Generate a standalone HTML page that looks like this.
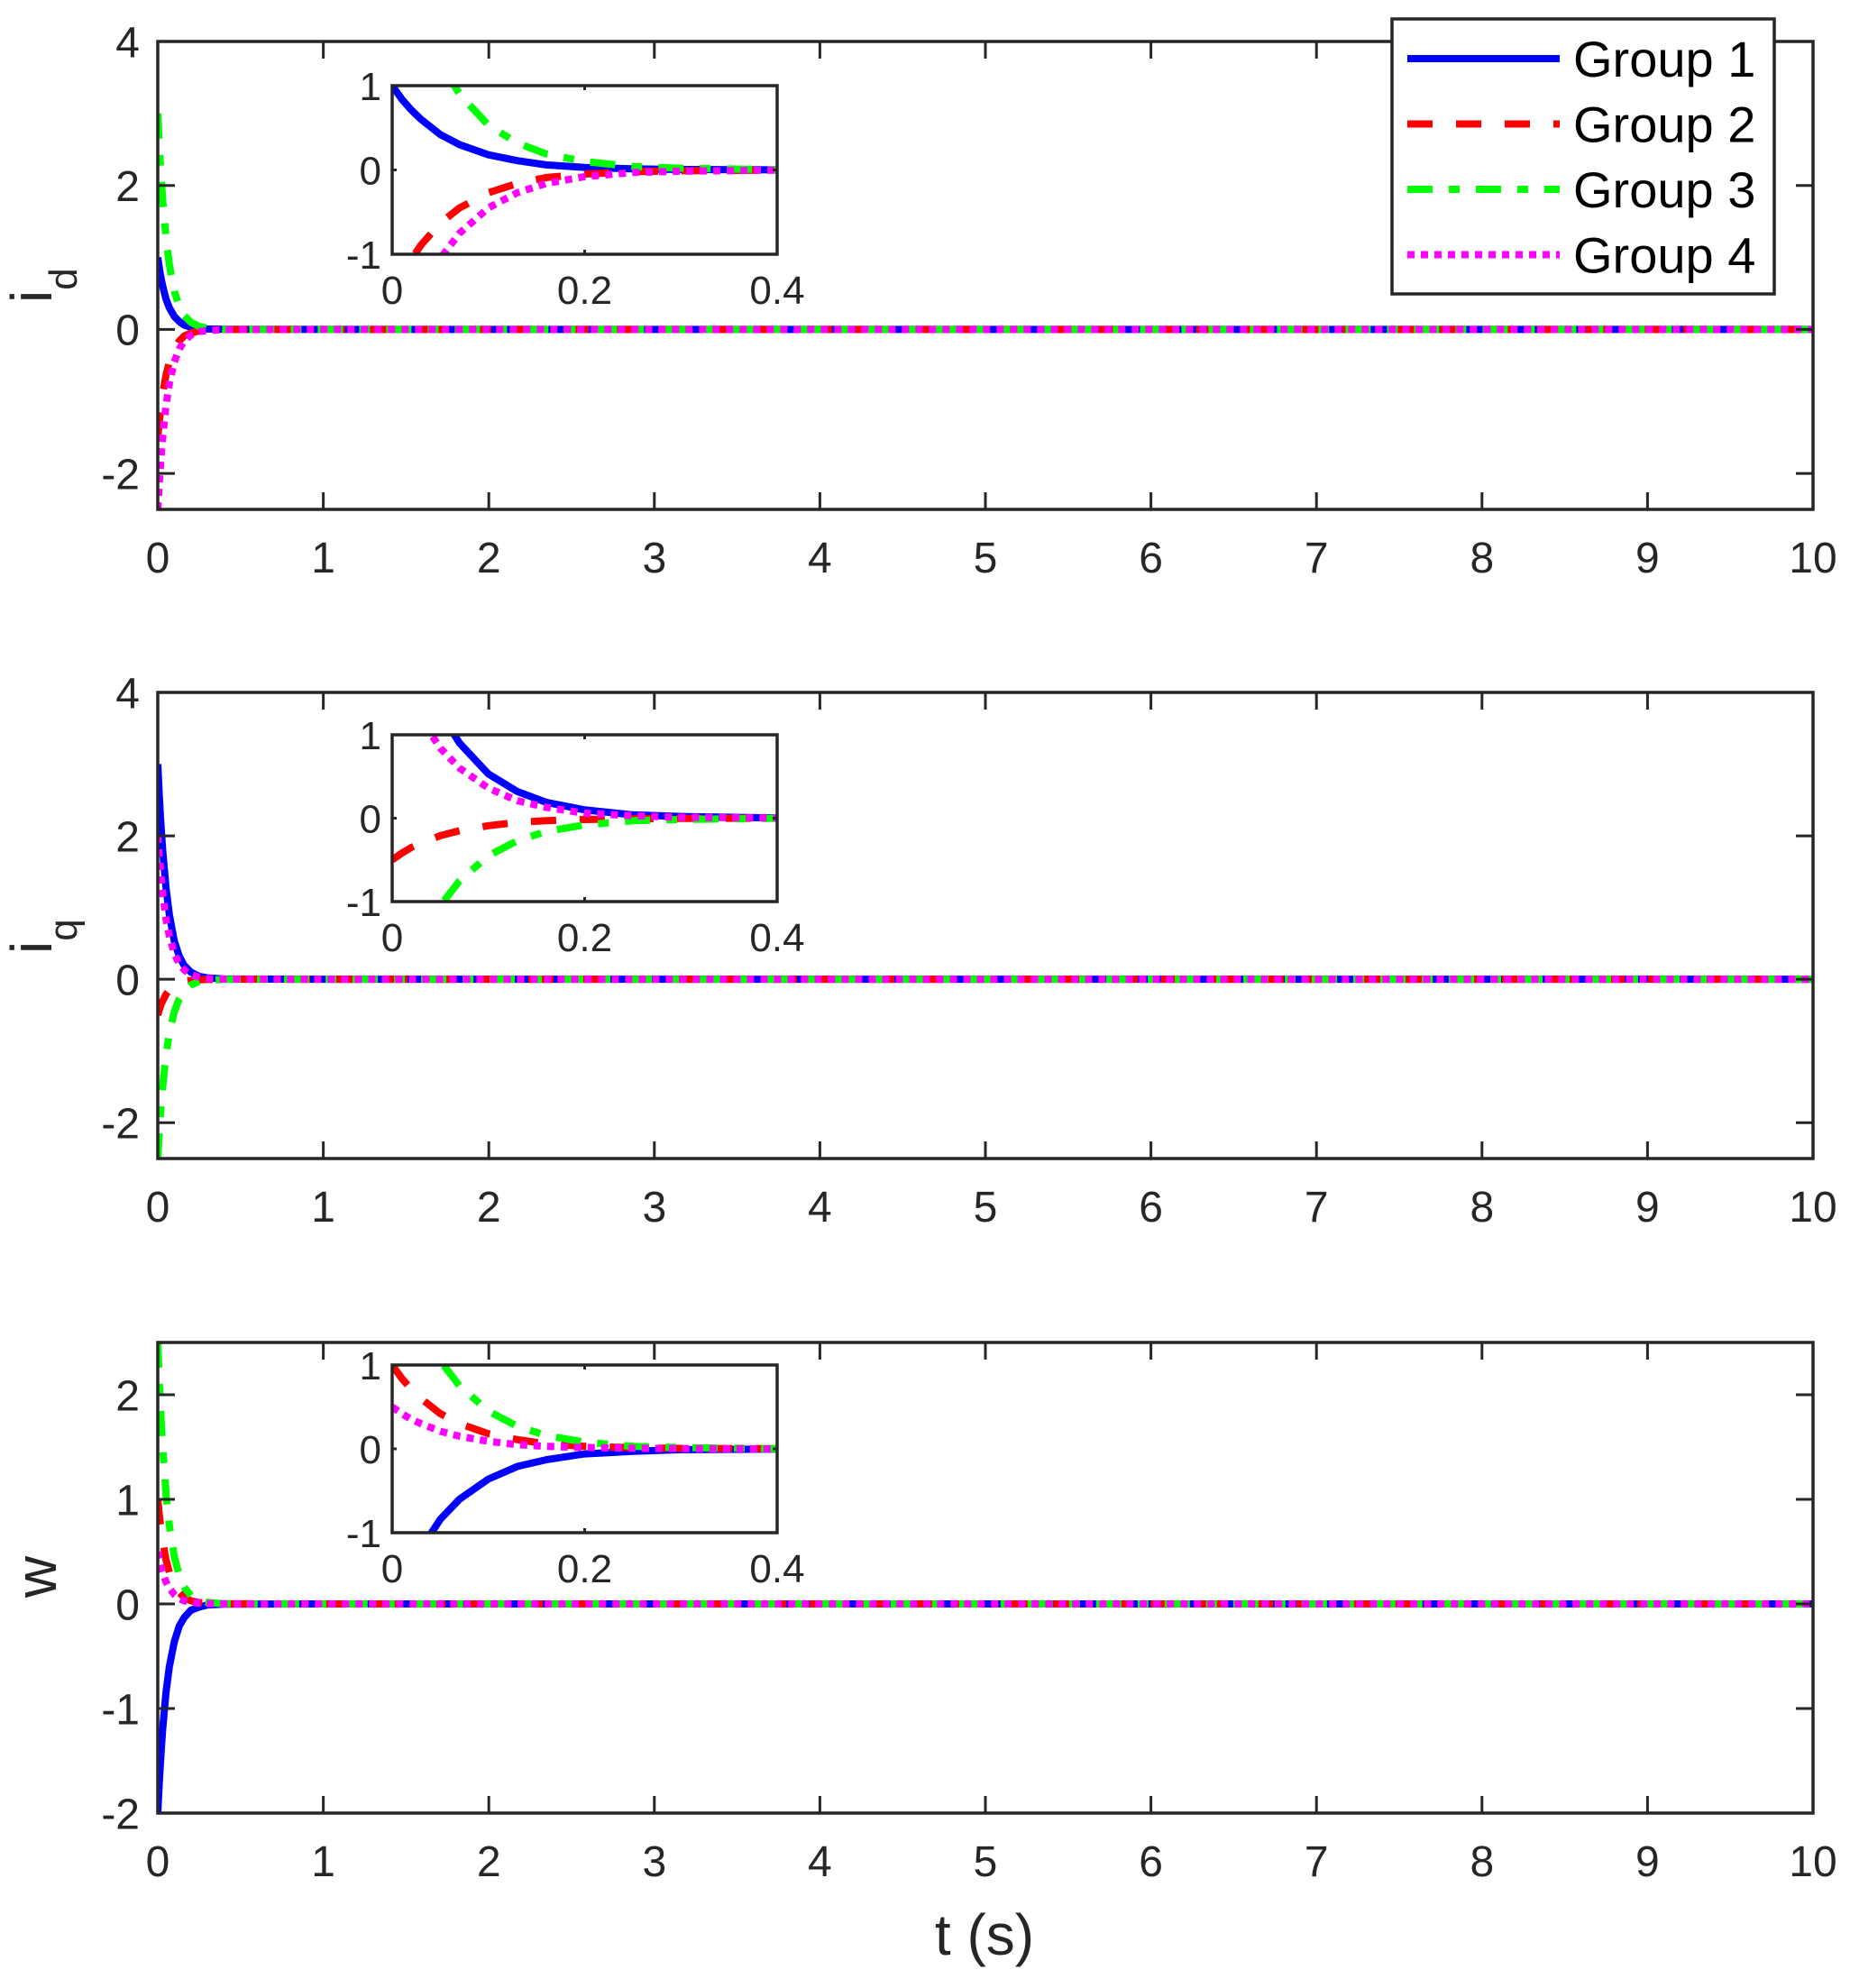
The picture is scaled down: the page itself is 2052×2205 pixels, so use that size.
<!DOCTYPE html>
<html><head><meta charset="utf-8"><style>
html,body{margin:0;padding:0;background:#fff;}
svg{display:block;font-family:"Liberation Sans",Arial,sans-serif;}
</style></head><body>
<svg id="fig" width="2052" height="2205" viewBox="0 0 2052 2205" xmlns="http://www.w3.org/2000/svg">
<rect width="2052" height="2205" fill="#fff"/>
</svg>
<script>
// Shared time samples (s)
const tSamples = [0,0.01,0.02,0.03,0.05,0.07,0.1,0.13,0.16,0.2,0.25,0.3,0.4,1,2,3,4,5,6,7,8,9,10];
// i_d series
const idG1 = [1,0.84,0.71,0.60,0.42,0.30,0.18,0.11,0.06,0.03,0.013,0.006,0.001,0,0,0,0,0,0,0,0,0,0];
const idG2 = [-1.5,-1.26,-1.06,-0.89,-0.63,-0.45,-0.27,-0.16,-0.09,-0.05,-0.02,-0.01,0,0,0,0,0,0,0,0,0,0,0];
const idG3 = [3,2.52,2.12,1.79,1.27,0.90,0.53,0.32,0.19,0.10,0.04,0.02,0.003,0,0,0,0,0,0,0,0,0,0];
const idG4 = [-2.5,-2.1,-1.77,-1.49,-1.05,-0.75,-0.45,-0.27,-0.16,-0.08,-0.03,-0.015,-0.002,0,0,0,0,0,0,0,0,0,0];
// i_q series
const iqG1 = [3,2.52,2.12,1.79,1.27,0.90,0.53,0.32,0.19,0.10,0.04,0.02,0.003,0,0,0,0,0,0,0,0,0,0];
const iqG2 = [-0.5,-0.42,-0.35,-0.30,-0.21,-0.15,-0.09,-0.05,-0.03,-0.016,-0.007,-0.003,0,0,0,0,0,0,0,0,0,0,0];
const iqG3 = [-2.5,-2.1,-1.77,-1.49,-1.05,-0.75,-0.45,-0.27,-0.16,-0.08,-0.03,-0.015,-0.002,0,0,0,0,0,0,0,0,0,0];
const iqG4 = [2,1.68,1.42,1.19,0.84,0.60,0.36,0.21,0.13,0.06,0.03,0.01,0.002,0,0,0,0,0,0,0,0,0,0];
// w series
const wG1 = [-2,-1.68,-1.42,-1.19,-0.84,-0.60,-0.36,-0.21,-0.13,-0.06,-0.03,-0.01,-0.002,0,0,0,0,0,0,0,0,0,0];
const wG2 = [1,0.84,0.71,0.60,0.42,0.30,0.18,0.11,0.06,0.03,0.013,0.006,0.001,0,0,0,0,0,0,0,0,0,0];
const wG3 = [2.5,2.1,1.77,1.49,1.05,0.75,0.45,0.27,0.16,0.08,0.03,0.015,0.002,0,0,0,0,0,0,0,0,0,0];
const wG4 = [0.5,0.42,0.35,0.30,0.21,0.15,0.09,0.05,0.03,0.016,0.007,0.003,0,0,0,0,0,0,0,0,0,0,0];
// Ticks
const xTicks = [0,1,2,3,4,5,6,7,8,9,10];
const yTicksI = [-2,0,2,4];
const yTicksW = [-2,-1,0,1,2];
const insetXTicks = [0,0.2,0.4];
const insetXLabels = ["0","0.2","0.4"];
const insetYTicks = [-1,0,1];
const groupNames = ["Group 1","Group 2","Group 3","Group 4"];

const NS = "http://www.w3.org/2000/svg";
const svg = document.getElementById('fig');
const AX = "#262626";
const styles = [
  {c:"#0000ff", d:null},
  {c:"#ff0000", d:"28 26"},
  {c:"#00ff00", d:"28 18 12 18"},
  {c:"#ff00ff", d:"8 7"}
];
function el(tag, attrs, parent){
  const e = document.createElementNS(NS, tag);
  for (const k in attrs) e.setAttribute(k, attrs[k]);
  (parent||svg).appendChild(e);
  return e;
}
function txt(x,y,s,size,anchor,name,parent){
  const t = el('text',{x:x,y:y,'font-size':size,'text-anchor':anchor||'middle',fill:AX},parent);
  t.textContent = s;
  
  
  return t;
}
let clipId = 0;
function axes(cfg){
  const {L,R,T,B,xmin,xmax,ymin,ymax} = cfg;
  const sx = v => L + (v - xmin)/(xmax - xmin)*(R - L);
  const sy = v => B - (v - ymin)/(ymax - ymin)*(B - T);
  const g = el('g',{});
  
  
  el('rect',{x:L,y:T,width:R-L,height:B-T,fill:'#fff'},g);
  const id = 'clip'+(clipId++);
  const cp = el('clipPath',{id:id},g);
  el('rect',{x:L,y:T,width:R-L,height:B-T},cp);
  const lines = el('g',{'clip-path':'url(#'+id+')'},g);
  cfg.series.forEach((ys,i)=>{
    let d = '';
    tSamples.forEach((t,j)=>{ d += (j?'L':'M') + sx(t).toFixed(2) + ' ' + sy(ys[j]).toFixed(2); });
    const p = el('path',{d:d,fill:'none',stroke:styles[i].c,'stroke-width':cfg.lw,'stroke-linejoin':'round'},lines);
    if (styles[i].d) p.setAttribute('stroke-dasharray', styles[i].d);
    
    
  });
  const tl = cfg.tick;
  cfg.xt.forEach((v,i)=>{
    const x = sx(v);
    el('line',{x1:x,y1:B,x2:x,y2:B-tl,stroke:AX,'stroke-width':3},g);
    el('line',{x1:x,y1:T,x2:x,y2:T+tl,stroke:AX,'stroke-width':3},g);
    txt(x, B + cfg.xlOff, cfg.xl ? cfg.xl[i] : String(v), cfg.fs, 'middle', cfg.name+'-x-tick-label', g);
  });
  cfg.yt.forEach(v=>{
    const y = sy(v);
    el('line',{x1:L,y1:y,x2:L+tl,y2:y,stroke:AX,'stroke-width':3},g);
    el('line',{x1:R,y1:y,x2:R-tl,y2:y,stroke:AX,'stroke-width':3},g);
    txt(L - cfg.ylOff, y + cfg.fs*0.36, String(v), cfg.fs, 'end', cfg.name+'-y-tick-label', g);
  });
  el('rect',{x:L,y:T,width:R-L,height:B-T,fill:'none',stroke:AX,'stroke-width':3.5},g);
  return g;
}
const panels = [
  {name:'id-plot', T:46, B:565, ymin:-2.5, ymax:4, yt:yTicksI, series:[idG1,idG2,idG3,idG4], inT:95, inB:282},
  {name:'iq-plot', T:768, B:1285, ymin:-2.5, ymax:4, yt:yTicksI, series:[iqG1,iqG2,iqG3,iqG4], inT:815, inB:1000},
  {name:'w-plot', T:1489, B:2011, ymin:-2, ymax:2.5, yt:yTicksW, series:[wG1,wG2,wG3,wG4], inT:1514, inB:1700}
];
panels.forEach(p=>{
  axes({name:p.name, L:175, R:2011, T:p.T, B:p.B, xmin:0, xmax:10, ymin:p.ymin, ymax:p.ymax,
        series:p.series, xt:xTicks, yt:p.yt, tick:19, lw:8, fs:48, xlOff:70, ylOff:20});
  axes({name:p.name+'-inset', L:435, R:862, T:p.inT, B:p.inB, xmin:0, xmax:0.4, ymin:-1, ymax:1,
        series:p.series, xt:insetXTicks, xl:insetXLabels, yt:insetYTicks, tick:5, lw:8, fs:44, xlOff:55, ylOff:12});
});
// y-axis titles
let t1 = el('text',{transform:'translate(57,336) rotate(-90)','font-size':64,fill:AX});


t1.innerHTML = 'i<tspan font-size="44" dy="28">d</tspan>';
let t2 = el('text',{transform:'translate(57,1058) rotate(-90)','font-size':64,fill:AX});


t2.innerHTML = 'i<tspan font-size="44" dy="28">q</tspan>';
let t3 = el('text',{transform:'translate(62,1749) rotate(-90)','font-size':64,'text-anchor':'middle',fill:AX});


t3.textContent = 'w';
txt(1092, 2168, 't (s)', 64, 'middle', 'x-axis-title');
// legend
const lg = el('g',{});


el('rect',{x:1544,y:21,width:424,height:305,fill:'#fff',stroke:AX,'stroke-width':3.5},lg);
groupNames.forEach((n,i)=>{
  const y = 65 + i*72.5;
  const ln = el('line',{x1:1561,y1:y,x2:1730,y2:y,stroke:styles[i].c,'stroke-width':8},lg);
  if (styles[i].d) ln.setAttribute('stroke-dasharray', styles[i].d);
  
  
  const t = el('text',{x:1745,y:y+20,'font-size':56,fill:'#000'},lg);
  t.textContent = n;
  
  
});
</script>
</body></html>
